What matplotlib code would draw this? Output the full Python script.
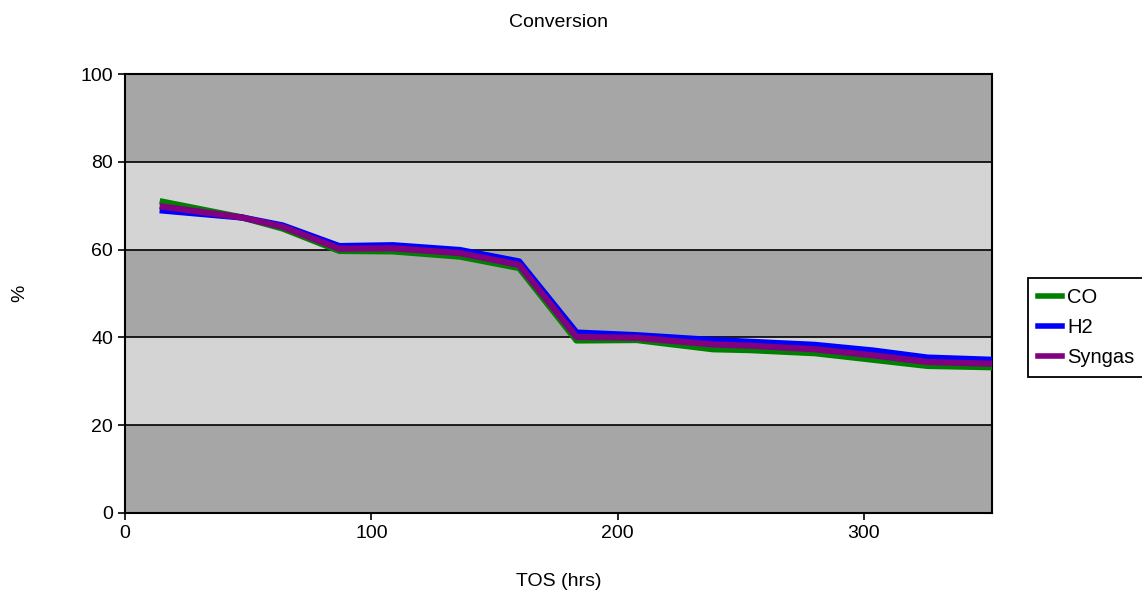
import matplotlib
matplotlib.use('Agg')
import matplotlib.pyplot as plt

plt.rcParams['font.family'] = ['Liberation Sans', 'DejaVu Sans']

tos = [15.3, 47.7, 64, 87, 108.7, 136, 160, 183.3, 207.7, 238.7, 253.8, 280, 303.8, 325.8, 352]
co = [70.9, 67.3, 64.8, 59.7, 59.6, 58.4, 55.8, 39.3, 39.4, 37.3, 37.1, 36.4, 34.9, 33.5, 33.2]
h2 = [68.9, 67.3, 65.5, 60.8, 61.0, 59.9, 57.3, 41.1, 40.5, 39.4, 39.0, 38.3, 37.0, 35.4, 34.9]
syngas = [69.8, 67.3, 65.2, 60.2, 60.3, 59.2, 56.5, 40.1, 39.9, 38.4, 38.1, 37.3, 35.9, 34.4, 34.0]

fig = plt.figure(figsize=(11.42, 5.96), dpi=100)
ax = fig.add_axes([0.1095, 0.1393, 0.7592, 0.7365])

# alternating bands
for lo, hi, c in [(0, 20, '#a6a6a6'), (20, 40, '#d4d4d4'), (40, 60, '#a6a6a6'),
                  (60, 80, '#d4d4d4'), (80, 100, '#a6a6a6')]:
    ax.axhspan(lo, hi, color=c, zorder=0, lw=0)
for y in [20, 40, 60, 80]:
    ax.axhline(y, color='black', lw=1.2, zorder=1)

ax.plot(tos, co, color='#008000', lw=4.5, label='CO', zorder=3)
ax.plot(tos, h2, color='#0000ff', lw=4.5, label='H2', zorder=3)
ax.plot(tos, syngas, color='#800080', lw=4.5, label='Syngas', zorder=3)

ax.set_xlim(0, 352)
ax.set_ylim(0, 100)
ax.set_xticks([0, 100, 200, 300])
ax.set_yticks([0, 20, 40, 60, 80, 100])
ax.tick_params(labelsize=14, length=5, width=1.2, direction='out')
for s in ax.spines.values():
    s.set_linewidth(1.5)

ax.text(0.5, 1.118, 'Conversion', transform=ax.transAxes, fontsize=14,
        ha='center', va='center')
ax.set_xlabel('TOS (hrs)', fontsize=14)
ax.xaxis.set_label_coords(0.5, -0.157)
ax.xaxis.label.set_va('center')
ax.set_ylabel('%', fontsize=14)
ax.yaxis.set_label_coords(-0.121, 0.5)
ax.yaxis.label.set_va('center')

leg = ax.legend(loc='upper left', bbox_to_anchor=(1.0415, 0.536), fontsize=14.5,
                frameon=True, fancybox=False, edgecolor='black', framealpha=1,
                handlelength=1.2, handletextpad=0.25, borderpad=0.5,
                labelspacing=0.55, borderaxespad=0)
leg.get_frame().set_linewidth(1.3)
for l in leg.get_lines():
    l.set_linewidth(4)

fig.savefig('out.png', dpi=100)
